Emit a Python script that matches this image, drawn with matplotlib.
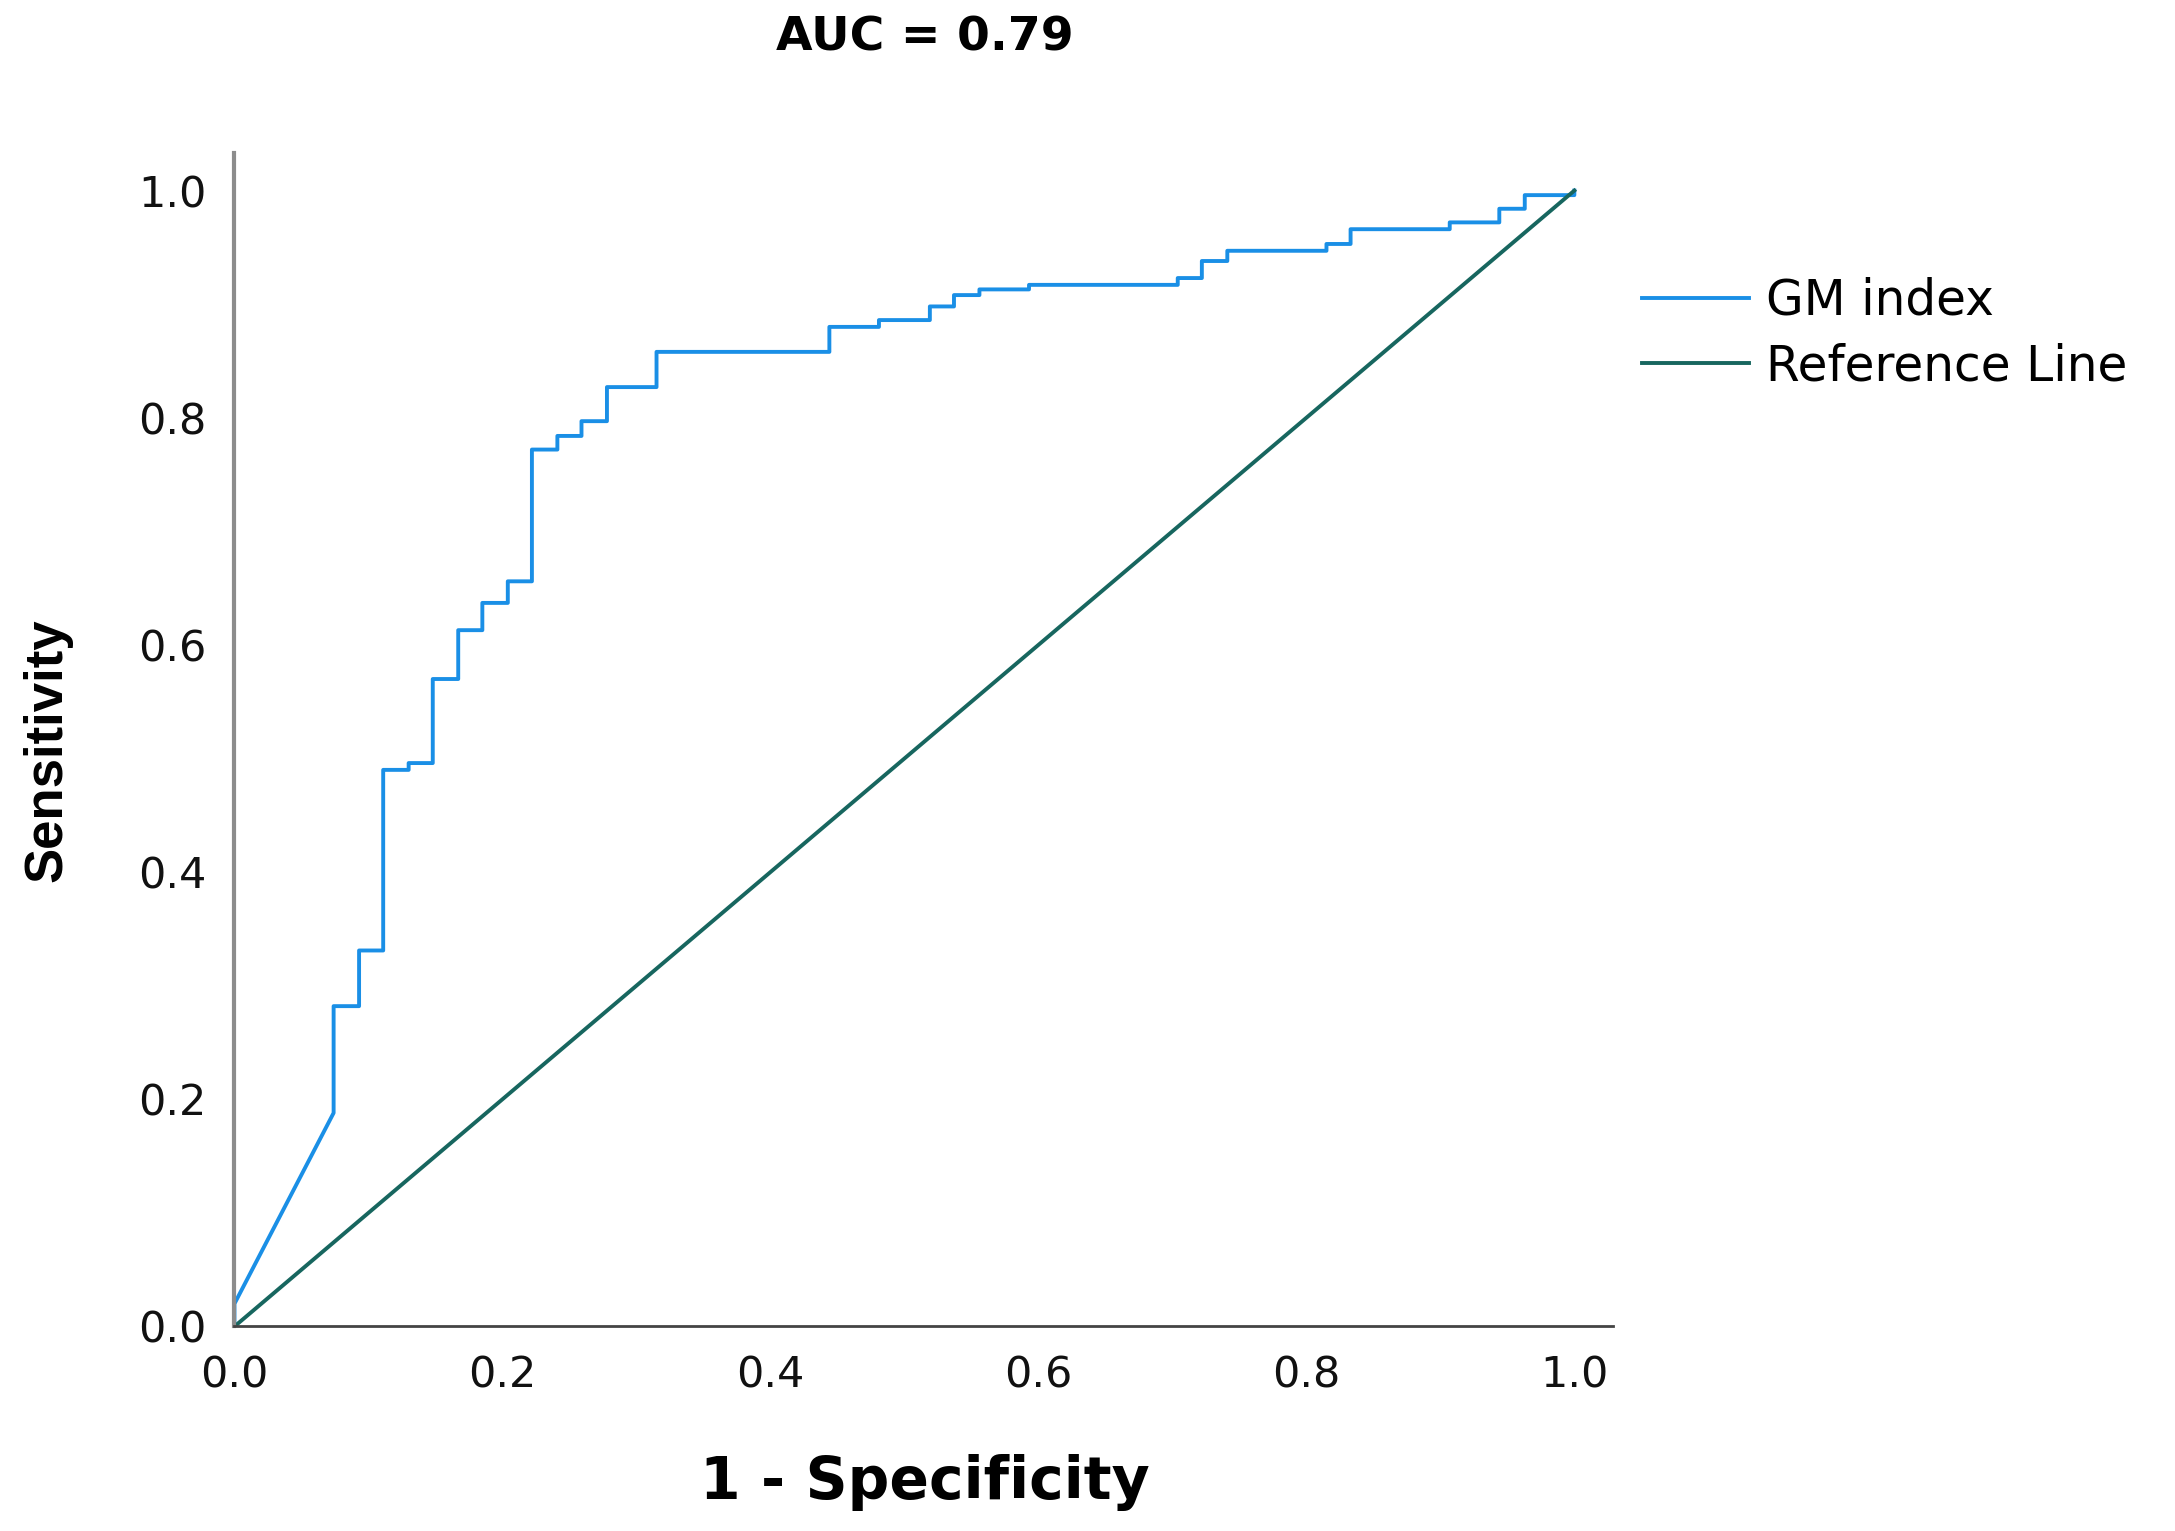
import matplotlib.pyplot as plt

# ROC curve points (1 - specificity, sensitivity)
fpr = [0.0, 0.0, 0.074, 0.074, 0.093, 0.093, 0.111, 0.111, 0.130, 0.130,
       0.148, 0.148, 0.167, 0.167, 0.185, 0.185, 0.204, 0.204, 0.222, 0.222,
       0.241, 0.241, 0.259, 0.259, 0.278, 0.278, 0.315, 0.315, 0.444, 0.444,
       0.481, 0.481, 0.519, 0.519, 0.537, 0.537, 0.556, 0.556, 0.593, 0.593,
       0.704, 0.704, 0.722, 0.722, 0.741, 0.741, 0.815, 0.815, 0.833, 0.833,
       0.907, 0.907, 0.944, 0.944, 0.963, 0.963, 1.0, 1.0]
tpr = [0.0, 0.020, 0.188, 0.282, 0.282, 0.331, 0.331, 0.490, 0.490, 0.496,
       0.496, 0.570, 0.570, 0.613, 0.613, 0.637, 0.637, 0.656, 0.656, 0.772,
       0.772, 0.784, 0.784, 0.797, 0.797, 0.827, 0.827, 0.858, 0.858, 0.880,
       0.880, 0.886, 0.886, 0.898, 0.898, 0.908, 0.908, 0.913, 0.913, 0.917,
       0.917, 0.923, 0.923, 0.938, 0.938, 0.947, 0.947, 0.953, 0.953, 0.966,
       0.966, 0.972, 0.972, 0.984, 0.984, 0.996, 0.996, 1.0]
ref_x = [0.0, 1.0]
ref_y = [0.0, 1.0]
ticks = [0.0, 0.2, 0.4, 0.6, 0.8, 1.0]
tick_labels = ['0.0', '0.2', '0.4', '0.6', '0.8', '1.0']

fig = plt.figure(figsize=(21.75, 15.31), dpi=100)
ax = fig.add_axes([0.1078, 0.1336, 0.6339, 0.7664])

ax.plot(fpr, tpr, color='#1a8fe6', lw=2.8, label='GM index')
ax.plot(ref_x, ref_y, color='#17665f', lw=2.8, label='Reference Line')

ax.set_xlim(0, 1.029)
ax.set_ylim(0, 1.033)
ax.set_xticks(ticks)
ax.set_xticklabels(tick_labels)
ax.set_yticks(ticks)
ax.set_yticklabels(tick_labels)
ax.tick_params(length=0, labelsize=31, pad=20, colors='#111111')
ax.tick_params(axis='x', pad=20)

for s in ['top', 'right']:
    ax.spines[s].set_visible(False)
ax.spines['left'].set_color('#8c8c8c')
ax.spines['left'].set_linewidth(3)
ax.spines['bottom'].set_color('#444444')
ax.spines['bottom'].set_linewidth(2)

fig.text(0.425, 0.975, 'AUC = 0.79', ha='center', va='center',
         fontsize=34, fontweight='bold', family='DejaVu Sans')
fig.text(0.425, 0.032, '1 - Specificity', ha='center', va='center',
         fontsize=42, fontweight='bold', family='DejaVu Sans')
fig.text(0.022, 0.51, 'Sensitivity', ha='center', va='center', rotation=90,
         fontsize=38, fontweight='bold', family='Liberation Sans')

ax.legend(loc='upper left', bbox_to_anchor=(0.746, 0.832),
          bbox_transform=fig.transFigure, frameon=False, fontsize=35,
          handlelength=2.2, handletextpad=0.35, labelspacing=0.36,
          borderaxespad=0)

fig.savefig('out.png', dpi=100, facecolor='white')
